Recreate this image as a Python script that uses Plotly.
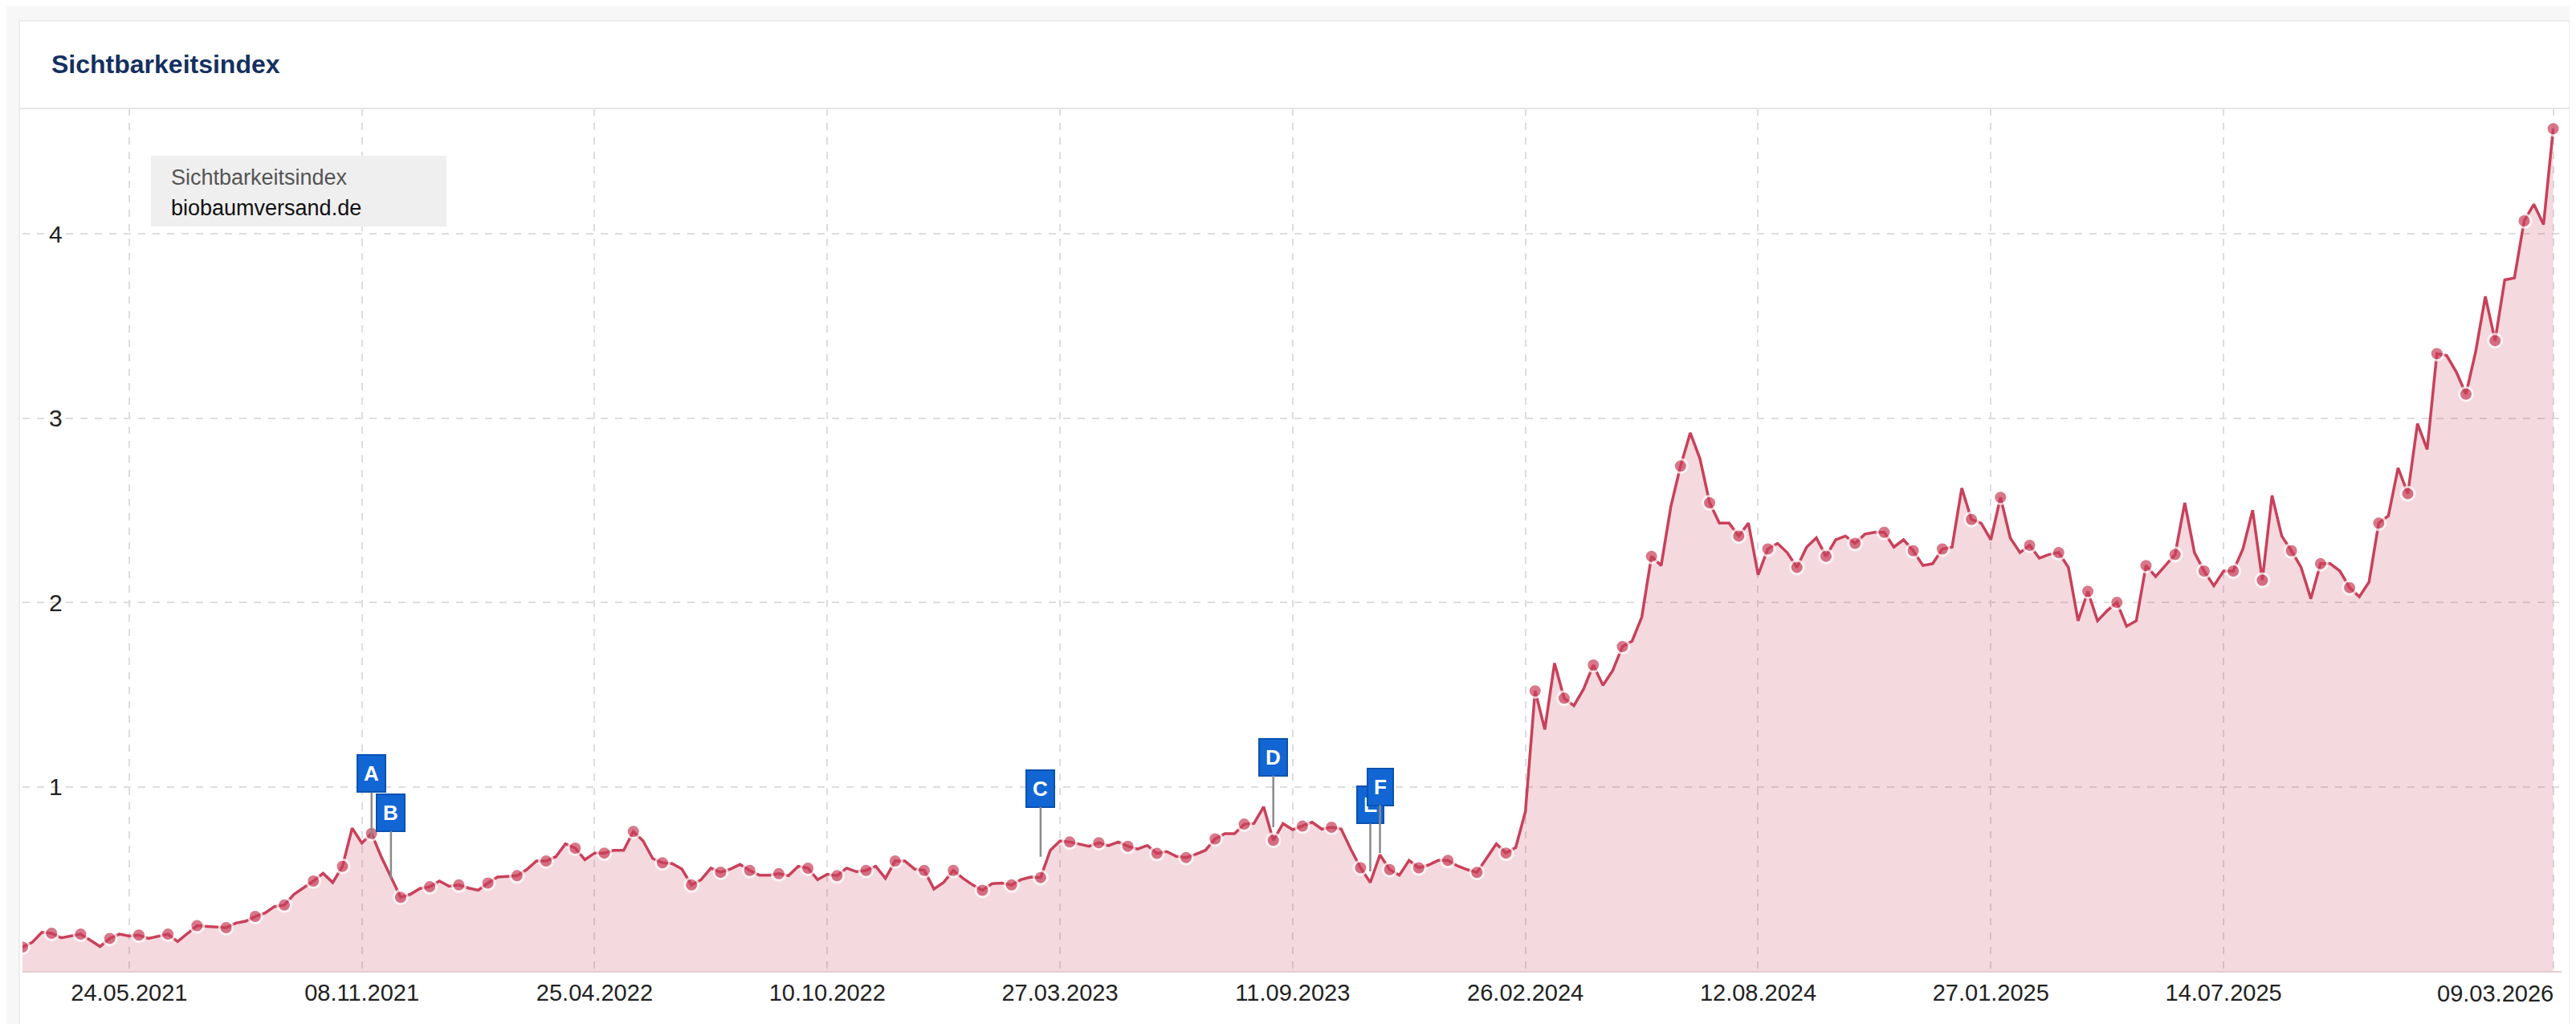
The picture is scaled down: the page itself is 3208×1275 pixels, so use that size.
import pandas as pd
import plotly.graph_objects as go

# weekly visibility index values, starting 08.03.2021
values = [
    0.13, 0.155, 0.21, 0.205, 0.18, 0.19, 0.2, 0.167, 0.133, 0.177, 0.2, 0.19,
    0.195, 0.177, 0.187, 0.2, 0.16, 0.205, 0.246, 0.242, 0.238, 0.235, 0.26, 0.27,
    0.296, 0.314, 0.35, 0.358, 0.416, 0.452, 0.488, 0.53, 0.48, 0.568, 0.775,
    0.694, 0.746, 0.62, 0.51, 0.40, 0.416, 0.448, 0.457, 0.488, 0.46, 0.467, 0.45,
    0.438, 0.477, 0.51, 0.513, 0.517, 0.55, 0.597, 0.597, 0.62, 0.69, 0.667, 0.604,
    0.64, 0.64, 0.655, 0.655, 0.757, 0.706, 0.61, 0.587, 0.583,
    0.553, 0.467, 0.496, 0.558, 0.536, 0.553, 0.578, 0.546, 0.52, 0.52, 0.528,
    0.517, 0.568, 0.558, 0.496, 0.525, 0.517, 0.558, 0.539, 0.546, 0.568, 0.503,
    0.597, 0.597, 0.553, 0.546, 0.445, 0.481, 0.546, 0.503, 0.467, 0.438, 0.474,
    0.477, 0.467, 0.496, 0.51, 0.507, 0.655, 0.706, 0.7, 0.688, 0.677, 0.696, 0.68,
    0.7, 0.677, 0.662, 0.681, 0.638, 0.648, 0.622, 0.616, 0.633, 0.655, 0.717,
    0.745, 0.745, 0.797, 0.8, 0.891, 0.709, 0.8, 0.767, 0.786, 0.807,
    0.77, 0.78, 0.77, 0.66, 0.56, 0.48, 0.63, 0.55, 0.52, 0.60, 0.56, 0.575, 0.60,
    0.60, 0.57, 0.55, 0.535, 0.61, 0.69, 0.64, 0.67, 0.865, 1.52, 1.31, 1.67, 1.48,
    1.44, 1.53, 1.66, 1.55, 1.63, 1.76, 1.79, 1.92,
    2.25, 2.2, 2.52, 2.74, 2.92, 2.78, 2.54, 2.43, 2.43, 2.36, 2.43, 2.15, 2.29,
    2.32, 2.27, 2.19, 2.30, 2.35, 2.25, 2.34, 2.36, 2.32, 2.37, 2.38, 2.38, 2.30,
    2.34, 2.28, 2.2, 2.21, 2.29, 2.30, 2.62, 2.45, 2.43, 2.34,
    2.57, 2.35, 2.27, 2.31, 2.24, 2.26, 2.27, 2.19, 1.90, 2.06, 1.90, 1.955, 2.0,
    1.87, 1.90, 2.2, 2.14, 2.2, 2.26, 2.54, 2.27, 2.17, 2.09, 2.17, 2.17, 2.29,
    2.5, 2.12, 2.58, 2.36, 2.28, 2.19, 2.02,
    2.21, 2.21, 2.17, 2.08, 2.03, 2.11, 2.43, 2.47, 2.73, 2.59, 2.97, 2.83, 3.35,
    3.34, 3.25, 3.13, 3.36, 3.66, 3.42, 3.75, 3.76, 4.07, 4.16, 4.05, 4.57,
]
dates = pd.date_range("2021-03-08", periods=len(values), freq="7D")

tick_dates = ["2021-05-24", "2021-11-08", "2022-04-25", "2022-10-10", "2023-03-27",
              "2023-09-11", "2024-02-26", "2024-08-12", "2025-01-27", "2025-07-14",
              "2026-03-09"]
tick_labels = ["24.05.2021", "08.11.2021", "25.04.2022", "10.10.2022", "27.03.2023",
               "11.09.2023", "26.02.2024", "12.08.2024", "27.01.2025", "14.07.2025",
               "09.03.2026"]

# event flags: label, week index, flag height, stem bottom
event_labels = ["A", "B", "C", "D", "E", "F"]
event_weeks = [36, 38, 105, 129, 139, 140]
event_flag_y = [1.07, 0.86, 0.99, 1.16, 0.90, 1.00]
event_stem_y = [0.72, 0.50, 0.62, 0.78, 0.54, 0.64]

W, H = 3208, 1275
L, R, T, B = 20, 26, 127, 74
pw, ph = W - L - R, H - T - B
font_fam = "Liberation Sans, Arial, sans-serif"


def px(x):
    return (x - L) / pw


def py(y):
    return (H - B - y) / ph


line_col = "#c9405a"
fig = go.Figure()
fig.add_trace(go.Scatter(
    x=dates, y=values, mode="lines+markers",
    line=dict(color=line_col, width=3.5),
    marker=dict(size=[17 if i % 3 == 0 else 0 for i in range(len(values))],
                color=line_col, line=dict(color="white", width=3)),
    fill="tozeroy", fillcolor="rgba(201,64,90,0.2)",
    hoverinfo="x+y", showlegend=False,
))

for lab, wk, fy, sy in zip(event_labels, event_weeks, event_flag_y, event_stem_y):
    fig.add_annotation(
        x=dates[wk], y=sy, ax=dates[wk], ay=fy, axref="x", ayref="y",
        text="<b>" + lab + "</b>", showarrow=True, arrowhead=0, arrowwidth=2.5,
        arrowcolor="#8a8a8a", font=dict(color="white", size=26, family=font_fam),
        bgcolor="#1166d4", bordercolor="#0b52b0", borderwidth=2, borderpad=7,
        standoff=0, startstandoff=0,
    )

shapes = [
    # card
    dict(type="rect", xref="paper", yref="paper", x0=px(16), x1=px(3192),
         y0=py(1290), y1=py(18), fillcolor="white", line=dict(color="#ececec", width=2),
         layer="below"),
    dict(type="line", xref="paper", yref="paper", x0=px(16), x1=px(3192),
         y0=py(127), y1=py(127), line=dict(color="#e6e6e6", width=2)),
    # legend box
    dict(type="rect", xref="paper", yref="paper", x0=px(180), x1=px(548),
         y0=py(274), y1=py(186), fillcolor="#efefef", line=dict(width=0)),
]

annotations = [
    dict(text="<b>Sichtbarkeitsindex</b>", xref="paper", yref="paper", x=px(54), y=py(72),
         xanchor="left", yanchor="middle", showarrow=False,
         font=dict(size=32, color="#14305f", family=font_fam)),
    dict(text="Sichtbarkeitsindex", xref="paper", yref="paper", x=px(203), y=py(213),
         xanchor="left", yanchor="middle", showarrow=False,
         font=dict(size=27, color="#555555", family=font_fam)),
    dict(text="biobaumversand.de", xref="paper", yref="paper", x=px(203), y=py(251),
         xanchor="left", yanchor="middle", showarrow=False,
         font=dict(size=27, color="#111111", family=font_fam)),
    dict(text=tick_labels[-1], xref="paper", yref="paper", x=px(3174), y=py(1229),
         xanchor="right", yanchor="middle", showarrow=False,
         font=dict(size=29, color="#222222", family=font_fam)),
]

fig.update_layout(
    width=W, height=H, margin=dict(l=L, r=R, t=T, b=B),
    paper_bgcolor="#f7f7f7", plot_bgcolor="white",
    shapes=shapes, annotations=list(fig.layout.annotations) + annotations,
    hovermode="closest",
)
fig.update_xaxes(
    range=[dates[0], dates[-1] + pd.Timedelta(days=6)],
    tickvals=pd.to_datetime(tick_dates), ticktext=tick_labels[:-1] + [""],
    showgrid=True, gridcolor="#dddddd", griddash="dash", gridwidth=2,
    showline=True, linecolor="#e3cdd2", linewidth=2, ticks="",
    tickfont=dict(size=29, color="#222222", family=font_fam), zeroline=False,
)
fig.update_yaxes(
    range=[0, 4.68], tickvals=[1, 2, 3, 4], ticklabelposition="inside",
    showgrid=True, gridcolor="#dddddd", griddash="dash", gridwidth=2,
    tickfont=dict(size=30, color="#222222", family=font_fam), zeroline=False,
    ticklabelstandoff=30,
)

fig.write_html("out.html")
